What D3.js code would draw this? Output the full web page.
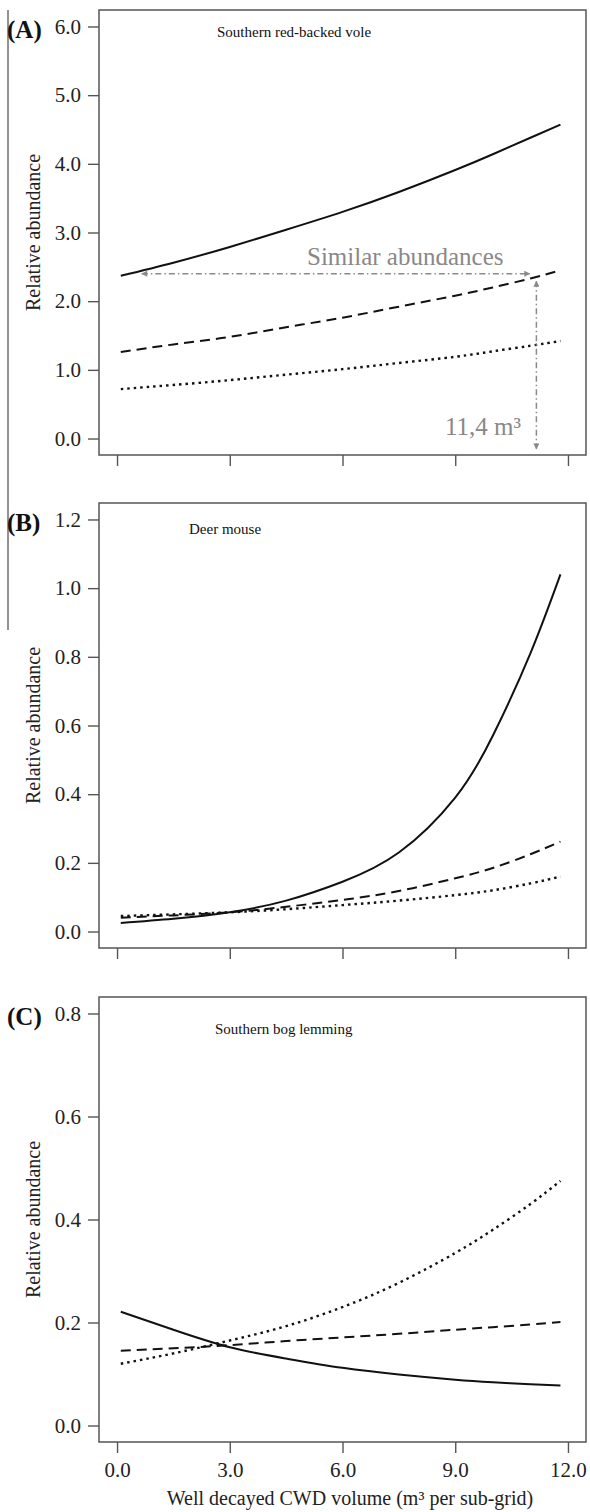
<!DOCTYPE html>
<html>
<head>
<meta charset="utf-8">
<script src="https://cdn.jsdelivr.net/npm/d3@7"></script>
<style>
  body { margin: 0; background: #fff; }
  #wrapper { width: 590px; height: 1512px; }
</style>
</head>
<body>
<div id="wrapper"></div>
<script>
// Data
const xValues = [0.1, 1.5, 3.0, 4.5, 6.0, 7.5, 9.0, 10.0, 11.0, 11.8]

// (A) Southern red-backed vole
const voleSolid  = [2.37, 2.56, 2.79, 3.04, 3.30, 3.59, 3.91, 4.14, 4.38, 4.57]
const voleDashed = [1.26, 1.37, 1.48, 1.62, 1.76, 1.92, 2.08, 2.20, 2.33, 2.45]
const voleDotted = [0.72, 0.78, 0.85, 0.93, 1.01, 1.10, 1.19, 1.27, 1.35, 1.42]

// (B) Deer mouse
const mouseSolid  = [0.025, 0.037, 0.056, 0.090, 0.145, 0.230, 0.390, 0.570, 0.810, 1.04]
const mouseDashed = [0.040, 0.047, 0.056, 0.072, 0.092, 0.118, 0.155, 0.185, 0.225, 0.262]
const mouseDotted = [0.045, 0.050, 0.056, 0.065, 0.077, 0.090, 0.106, 0.120, 0.140, 0.160]

// (C) Southern bog lemming
const lemmingSolid  = [0.221, 0.186, 0.152, 0.130, 0.112, 0.099, 0.089, 0.084, 0.080, 0.0775]
const lemmingDashed = [0.145, 0.150, 0.156, 0.164, 0.171, 0.178, 0.186, 0.191, 0.196, 0.201]
const lemmingDotted = [0.120, 0.140, 0.165, 0.193, 0.230, 0.277, 0.335, 0.380, 0.430, 0.475]

const xTicks = [0, 3, 6, 9, 12]
const voleTicks = [0, 1, 2, 3, 4, 5, 6]
const mouseTicks = [0, 0.2, 0.4, 0.6, 0.8, 1.0, 1.2]
const lemmingTicks = [0, 0.2, 0.4, 0.6, 0.8]

const panelLetters = ["(A)", "(B)", "(C)"]
const panelTitles = ["Southern red-backed vole", "Deer mouse", "Southern bog lemming"]

// annotation in panel A (data units)
const similarLevel = 2.40
const similarFrom = 0.66
const similarTo = 10.98
const thresholdX = 11.16
const thresholdTop = 2.29
const thresholdBottom = -0.15

function drawChart() {

    const dimensions = {
        width: 590,
        height: 1512,
        left: 99,
        right: 586,
        panelTops: [10, 503, 997],
        panelHeight: 445,
        titleX: [217, 189, 215],
        titleDy: [27, 31, 37],
    }

    const serif = "'Liberation Serif', 'Times New Roman', serif"
    const boxColor = "#555"

    const wrapper = d3.select("#wrapper")
        .append("svg")
        .attr("width", dimensions.width)
        .attr("height", dimensions.height)

    // arrow heads for the annotation
    const defs = wrapper.append("defs")
    defs.append("marker")
        .attr("id", "arrow")
        .attr("viewBox", "0 0 10 10")
        .attr("refX", 9)
        .attr("refY", 5)
        .attr("markerWidth", 8)
        .attr("markerHeight", 6)
        .attr("markerUnits", "userSpaceOnUse")
        .attr("orient", "auto-start-reverse")
      .append("path")
        .attr("d", "M0,0 L10,5 L0,10 z")
        .attr("fill", "#8a8a8a")

    // R pads the axis range by 4%
    const pad = ([lo, hi]) => [lo - 0.04 * (hi - lo), hi + 0.04 * (hi - lo)]

    const xScale = d3.scaleLinear()
        .domain(pad([0, 12]))
        .range([dimensions.left, dimensions.right])

    const panels = [
        { ylim: [0, 6], ticks: voleTicks, series: [voleSolid, voleDashed, voleDotted] },
        { ylim: [0, 1.2], ticks: mouseTicks, series: [mouseSolid, mouseDashed, mouseDotted] },
        { ylim: [0, 0.8], ticks: lemmingTicks, series: [lemmingSolid, lemmingDashed, lemmingDotted] },
    ]

    const dashes = [null, "10,6", "2.5,4"]

    // thin grey rule on the far left
    wrapper.append("line")
        .attr("x1", 8).attr("x2", 8)
        .attr("y1", 10).attr("y2", 630)
        .attr("stroke", "#777")
        .attr("stroke-width", 1.6)

    const scales = []

    panels.forEach((p, i) => {
        const top = dimensions.panelTops[i]
        const bottom = top + dimensions.panelHeight

        const yScale = d3.scaleLinear()
            .domain(pad(p.ylim))
            .range([bottom, top])
        scales.push(yScale)

        const bounds = wrapper.append("g")

        // Draw lines
        const lineGenerator = d3.line()
            .x((d, j) => xScale(xValues[j]))
            .y(d => yScale(d))
            .curve(d3.curveNatural)

        p.series.forEach((values, k) => {
            bounds.append("path")
                .datum(values)
                .attr("d", lineGenerator)
                .attr("fill", "none")
                .attr("stroke", "#111")
                .attr("stroke-width", k == 2 ? 2.4 : 2)
                .attr("stroke-dasharray", dashes[k])
        })

        // Draw box
        bounds.append("rect")
            .attr("x", dimensions.left)
            .attr("y", top)
            .attr("width", dimensions.right - dimensions.left)
            .attr("height", dimensions.panelHeight)
            .attr("fill", "none")
            .attr("stroke", boxColor)
            .attr("stroke-width", 1.5)

        // Draw y-axis
        const yAxisGenerator = d3.axisLeft()
            .scale(yScale)
            .tickValues(p.ticks)
            .tickFormat(d3.format(".1f"))
            .tickSize(11)
            .tickPadding(7)
        const yAxis = bounds.append("g")
            .attr("transform", `translate(${dimensions.left}, 0)`)
            .attr("font-family", serif)
            .call(yAxisGenerator)
        yAxis.select(".domain").remove()
        yAxis.selectAll("line").attr("stroke", boxColor).attr("stroke-width", 1.4)
        yAxis.selectAll("text")
            .attr("fill", "#222")
            .style("font-family", serif)
            .style("font-size", "21px")

        // Draw x-axis
        const xAxisGenerator = d3.axisBottom()
            .scale(xScale)
            .tickValues(xTicks)
            .tickFormat(i == 2 ? d3.format(".1f") : "")
            .tickSize(11)
            .tickPadding(9)
        const xAxis = bounds.append("g")
            .attr("transform", `translate(0, ${bottom})`)
            .attr("font-family", serif)
            .call(xAxisGenerator)
        xAxis.select(".domain").remove()
        xAxis.selectAll("line").attr("stroke", boxColor).attr("stroke-width", 1.4)
        xAxis.selectAll("text")
            .attr("fill", "#222")
            .style("font-family", serif)
            .style("font-size", "21px")

        // Labels
        wrapper.append("text")
            .attr("transform", `translate(40, ${(top + bottom) / 2}) rotate(-90)`)
            .attr("text-anchor", "middle")
            .attr("fill", "#222")
            .style("font-family", serif)
            .style("font-size", "20px")
            .text("Relative abundance")

        wrapper.append("text")
            .attr("x", 7)
            .attr("y", yScale(p.ylim[1]) + 12)
            .attr("fill", "#111")
            .style("font-family", serif)
            .style("font-size", "25px")
            .style("font-weight", "bold")
            .text(panelLetters[i])

        wrapper.append("text")
            .attr("x", dimensions.titleX[i])
            .attr("y", top + dimensions.titleDy[i])
            .attr("fill", "#111")
            .style("font-family", serif)
            .style("font-size", "15px")
            .text(panelTitles[i])
    })

    // x-axis title
    wrapper.append("text")
        .attr("x", 350)
        .attr("y", 1505)
        .attr("text-anchor", "middle")
        .attr("fill", "#222")
        .style("font-family", serif)
        .style("font-size", "20px")
        .text("Well decayed CWD volume (m³ per sub-grid)")

    // Annotation in panel A
    const yA = scales[0]
    const anno = wrapper.append("g")
        .attr("stroke", "#8a8a8a")
        .attr("stroke-width", 1.5)
        .attr("stroke-dasharray", "6,3,1.5,3")

    anno.append("line")
        .attr("x1", xScale(similarFrom)).attr("x2", xScale(similarTo))
        .attr("y1", yA(similarLevel)).attr("y2", yA(similarLevel))
        .attr("marker-start", "url(#arrow)")
        .attr("marker-end", "url(#arrow)")

    anno.append("line")
        .attr("x1", xScale(thresholdX)).attr("x2", xScale(thresholdX))
        .attr("y1", yA(thresholdTop)).attr("y2", yA(thresholdBottom))
        .attr("marker-start", "url(#arrow)")
        .attr("marker-end", "url(#arrow)")

    wrapper.append("text")
        .attr("x", 307)
        .attr("y", 265)
        .attr("fill", "#888")
        .style("font-family", serif)
        .style("font-size", "25px")
        .text("Similar abundances")

    wrapper.append("text")
        .attr("x", 521)
        .attr("y", 435)
        .attr("text-anchor", "end")
        .attr("fill", "#888")
        .style("font-family", serif)
        .style("font-size", "25px")
        .text("11,4 m³")
}
drawChart()
</script>
</body>
</html>
